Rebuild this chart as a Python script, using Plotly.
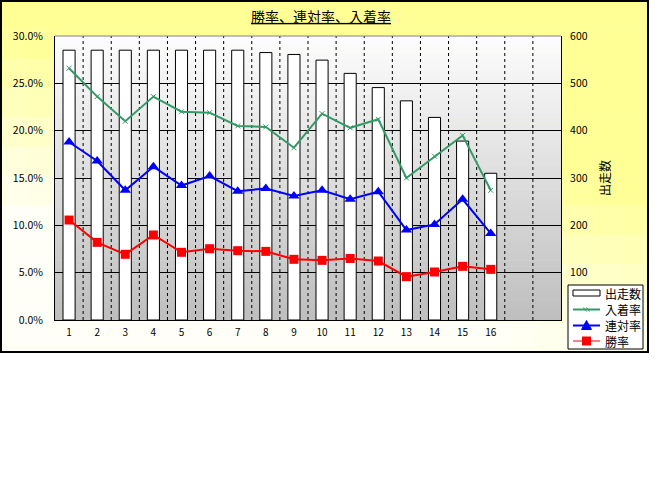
import plotly.graph_objects as go

# ---- data ----
categories = list(range(1, 17))
tick_labels = [str(c) for c in categories]
n_slots = 18
starts = [570, 570, 570, 570, 570, 570, 570, 565, 561, 549, 521, 491, 463, 428, 378, 310]   # 出走数
nyuchaku = [26.6, 23.6, 21.0, 23.6, 22.0, 21.9, 20.5, 20.4, 18.2, 21.8, 20.3, 21.2, 15.0, 17.3, 19.5, 13.7]  # 入着率
rentai = [18.8, 16.8, 13.7, 16.2, 14.2, 15.2, 13.6, 13.9, 13.1, 13.7, 12.75, 13.55, 9.5, 10.1, 12.75, 9.15]  # 連対率
shoritsu = [10.56, 8.2, 6.94, 8.98, 7.15, 7.53, 7.32, 7.25, 6.41, 6.3, 6.5, 6.23, 4.58, 5.07, 5.67, 5.35]   # 勝率
pct_ticks = [0, 5, 10, 15, 20, 25, 30]
pct_labels = [f"{v:.1f}%" for v in pct_ticks]
count_ticks = [100, 200, 300, 400, 500, 600]
series_names = ["出走数", "入着率", "連対率", "勝率"]
series_colors = ["black", "#339966", "#0000FF", "#FF0000"]

W, H = 661, 480
L, R, T, B = 55, 561, 36, 320   # plot area in px
FW, FH = 648, 352               # frame size in px
pw, ph = R - L, B - T

def px_x(px):
    return (px - L) / pw

def px_y(py):
    return (B - py) / ph

FONT = "Noto Sans CJK JP"

fig = go.Figure()

fig.add_trace(go.Bar(
    x=categories, y=starts, name=series_names[0], yaxis="y",
    marker=dict(color="white", line=dict(color="black", width=1)),
    width=0.43,
))
fig.add_trace(go.Scatter(
    x=categories, y=nyuchaku, name=series_names[1], yaxis="y2", mode="lines+markers",
    line=dict(color=series_colors[1], width=2),
    marker=dict(symbol="x-thin", size=5, line=dict(color=series_colors[1], width=1), color=series_colors[1]),
))
fig.add_trace(go.Scatter(
    x=categories, y=rentai, name=series_names[2], yaxis="y2", mode="lines+markers",
    line=dict(color=series_colors[2], width=2),
    marker=dict(symbol="triangle-up", size=10, color=series_colors[2]),
))
fig.add_trace(go.Scatter(
    x=categories, y=shoritsu, name=series_names[3], yaxis="y2", mode="lines+markers",
    line=dict(color=series_colors[3], width=2),
    marker=dict(symbol="square", size=9, color=series_colors[3]),
))

shapes = []
annotations = []
# yellow frame gradient (decoration)
NC, NR = 24, 12
for i in range(NC):
    for j in range(NR):
        xf = (i + 0.5) / NC
        yf = (j + 0.5) / NR
        a = max(0.0, min(1.0, 1.15 - 1.9 * yf + 0.9 * xf))
        b = int(round(248 - a * (248 - 150)))
        shapes.append(dict(
            type="rect", xref="paper", yref="paper", layer="below",
            x0=px_x(i * FW / NC), x1=px_x((i + 1) * FW / NC + 0.5),
            y0=px_y((j + 1) * FH / NR + 0.5), y1=px_y(j * FH / NR),
            fillcolor=f"rgb(255,255,{b})", line=dict(width=0),
        ))
# plot-area gradient
NB = 48
for k in range(NB):
    t = (k + 0.5) / NB
    g = int(round(190 + t * (253 - 190)))
    shapes.append(dict(
        type="rect", xref="paper", yref="paper", layer="below",
        x0=0, x1=1, y0=k / NB, y1=(k + 1) / NB + 0.002,
        fillcolor=f"rgb({g},{g},{g})", line=dict(width=0),
    ))
# dashed separators between category slots
for k in range(1, n_slots):
    shapes.append(dict(
        type="line", xref="x", yref="paper", layer="between",
        x0=k + 0.5, x1=k + 0.5, y0=0, y1=1,
        line=dict(color="black", width=1, dash="3px,3px"),
    ))
# top border of plot (gray)
shapes.append(dict(type="line", xref="paper", yref="paper", x0=0, x1=1, y0=1, y1=1,
                   line=dict(color="#808080", width=1), layer="above"))
# outer frame border
shapes.append(dict(type="rect", xref="paper", yref="paper", layer="above",
                   x0=px_x(1), x1=px_x(FW), y0=px_y(FH), y1=px_y(1),
                   line=dict(color="black", width=2), fillcolor="rgba(0,0,0,0)"))

# ---- compact legend box (Excel style) ----
LX0, LX1, LY0, LY1 = 568, 643, 285, 349
shapes.append(dict(type="rect", xref="paper", yref="paper", layer="above",
                   x0=px_x(LX0), x1=px_x(LX1), y0=px_y(LY1), y1=px_y(LY0),
                   fillcolor="white", line=dict(color="black", width=1)))
item_y = [293, 309.5, 325.5, 341]
sx0, sx1, scx = 573, 600, 586.5
for idx, (name, col) in enumerate(zip(series_names, series_colors)):
    yy = item_y[idx]
    if idx == 0:
        shapes.append(dict(type="rect", xref="paper", yref="paper", layer="above",
                           x0=px_x(sx0), x1=px_x(sx1), y0=px_y(yy + 3), y1=px_y(yy - 3),
                           fillcolor="white", line=dict(color="black", width=1)))
    else:
        shapes.append(dict(type="line", xref="paper", yref="paper", layer="above",
                           x0=px_x(sx0), x1=px_x(sx1), y0=px_y(yy), y1=px_y(yy),
                           line=dict(color=col, width=2 if idx < 3 else 1)))
        if idx == 1:
            for dx in (-1.5, 1.5):
                shapes.append(dict(type="line", xref="paper", yref="paper", layer="above",
                                   x0=px_x(scx + dx - 1.5), x1=px_x(scx + dx + 1.5),
                                   y0=px_y(yy - 2), y1=px_y(yy + 2),
                                   line=dict(color=col, width=1)))
        elif idx == 2:
            path = (f"M {px_x(scx - 5)} {px_y(yy + 4)} L {px_x(scx + 5)} {px_y(yy + 4)} "
                    f"L {px_x(scx)} {px_y(yy - 5)} Z")
            shapes.append(dict(type="path", xref="paper", yref="paper", layer="above",
                               path=path, fillcolor=col, line=dict(color=col, width=1)))
        else:
            shapes.append(dict(type="rect", xref="paper", yref="paper", layer="above",
                               x0=px_x(scx - 4.5), x1=px_x(scx + 4.5),
                               y0=px_y(yy + 4.5), y1=px_y(yy - 4.5),
                               fillcolor=col, line=dict(color=col, width=0)))
    annotations.append(dict(xref="paper", yref="paper", x=px_x(603), y=px_y(yy),
                            xanchor="left", yanchor="middle", text=name, showarrow=False,
                            font=dict(family=FONT, size=12, color="black")))

fig.update_layout(
    width=W, height=H,
    margin=dict(l=L, r=W - R, t=T, b=H - B, pad=0),
    paper_bgcolor="white", plot_bgcolor="rgba(0,0,0,0)",
    font=dict(family=FONT, size=10, color="black"),
    shapes=shapes,
    annotations=annotations,
    showlegend=False,
    barmode="overlay",
    title=dict(
        text="勝率、連対率、入着率",
        font=dict(family=FONT, size=14, color="black", lineposition="under"),
        xref="paper", x=px_x(321), xanchor="center",
        yref="container", y=1 - 17 / H, yanchor="middle",
    ),
    xaxis=dict(
        range=[0.5, n_slots + 0.5], tickmode="array", tickvals=categories, ticktext=tick_labels,
        showgrid=False, zeroline=False, showline=True, linecolor="black", linewidth=1,
        ticks="", ticklabelstandoff=3, tickfont=dict(size=10), automargin=False,
    ),
    yaxis=dict(
        side="right", range=[0, 600], tickmode="array", tickvals=count_ticks,
        showgrid=True, gridcolor="black", gridwidth=1, zeroline=False,
        showline=True, linecolor="black", linewidth=1, ticks="",
        ticklabelstandoff=6, tickfont=dict(size=10.5), automargin=False,
        title=dict(text="出走数", font=dict(size=12), standoff=14),
    ),
    yaxis2=dict(
        overlaying="y", side="left", range=[0, 30], tickmode="array", tickvals=pct_ticks,
        ticktext=pct_labels, showgrid=False, zeroline=False,
        showline=True, linecolor="black", linewidth=1, ticks="",
        ticklabelstandoff=9, tickfont=dict(size=10.5), automargin=False,
    ),
)

fig.write_html("out.html", config={"displayModeBar": False},
               post_script="document.body.style.margin='0px';")
